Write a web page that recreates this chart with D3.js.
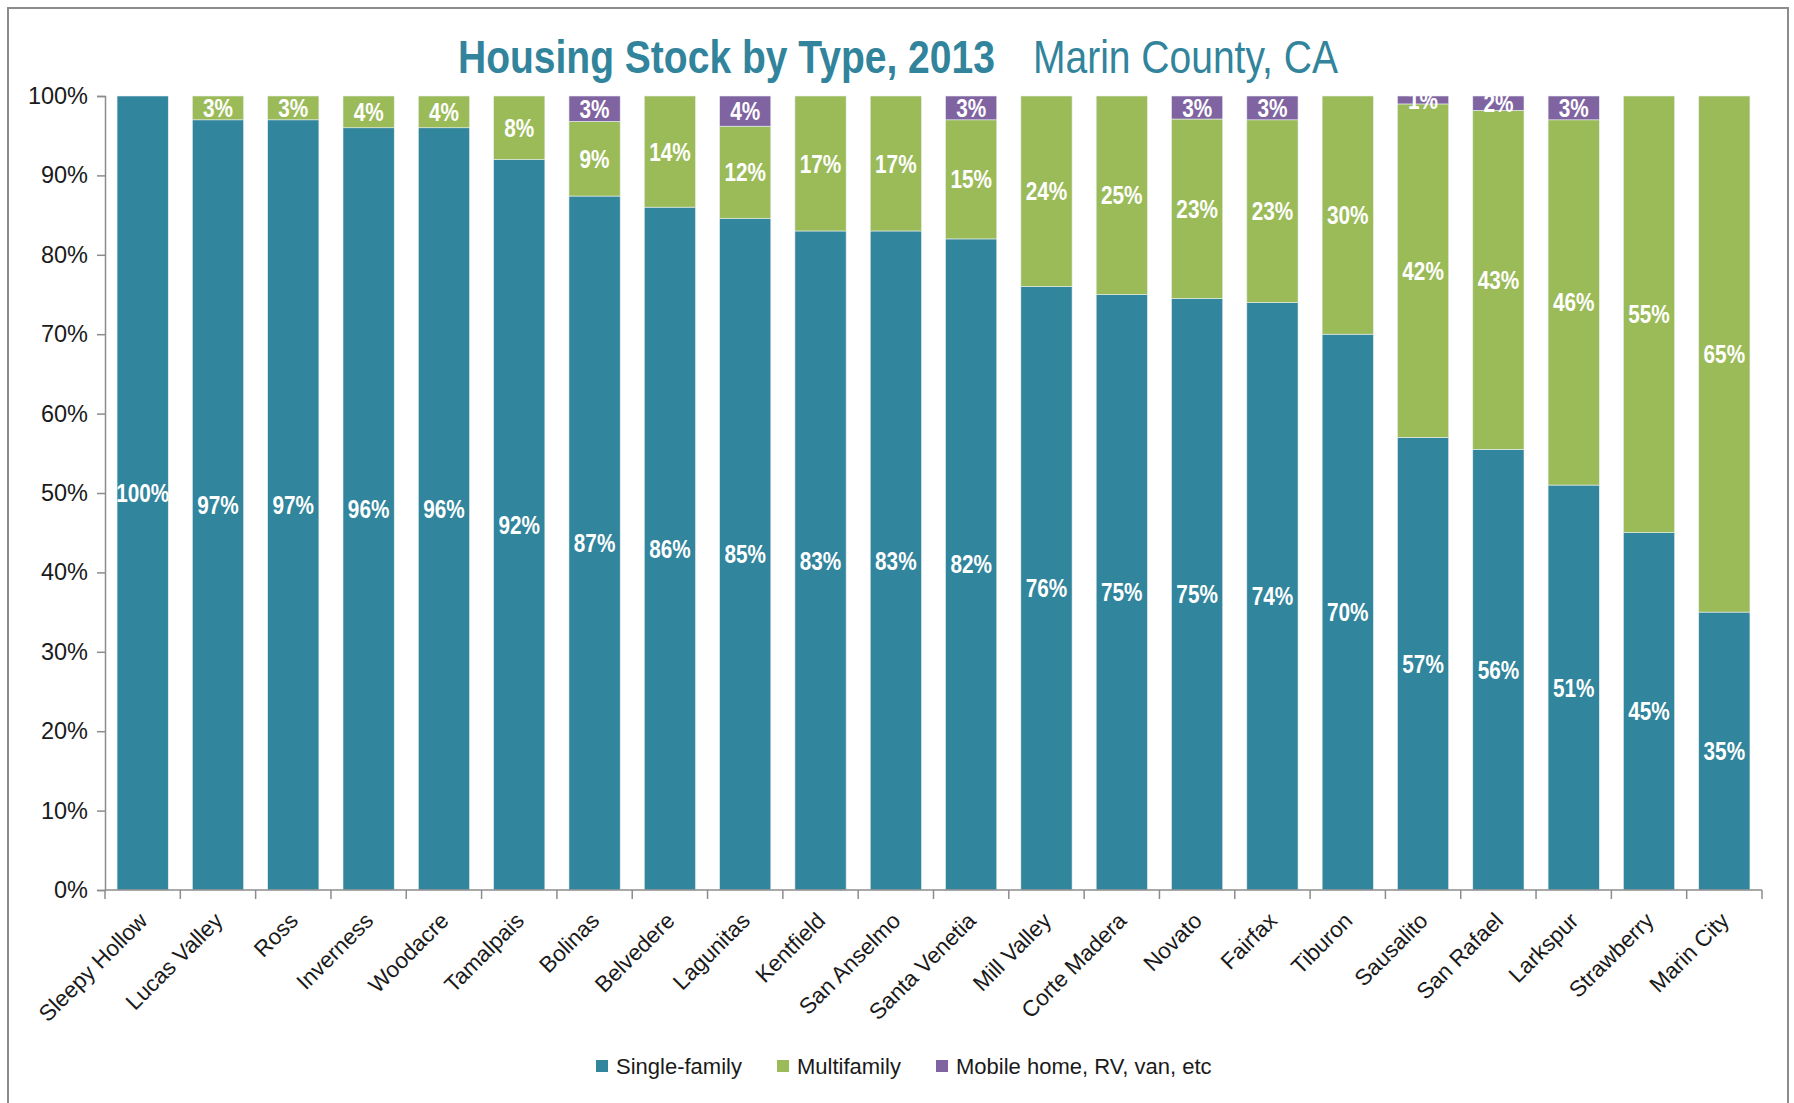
<!DOCTYPE html>
<html>
<head>
<meta charset="utf-8">
<script src="https://cdn.jsdelivr.net/npm/d3@7/dist/d3.min.js"></script>
<style>
  html, body { margin: 0; padding: 0; background: #ffffff; }
  svg { display: block; }
</style>
</head>
<body>
<svg id="chart" width="1794" height="1103"></svg>
<script>
const categories = ["Sleepy Hollow","Lucas Valley","Ross","Inverness","Woodacre","Tamalpais","Bolinas","Belvedere","Lagunitas","Kentfield","San Anselmo","Santa Venetia","Mill Valley","Corte Madera","Novato","Fairfax","Tiburon","Sausalito","San Rafael","Larkspur","Strawberry","Marin City"];
const singleFamily = [100, 97, 97, 96, 96, 92, 87.4, 86, 84.6, 83, 83, 82, 76, 75, 74.5, 74, 70, 57, 55.5, 51, 45, 35];
const multifamily  = [0, 3, 3, 4, 4, 8, 9.4, 14, 11.6, 17, 17, 15, 24, 25, 22.6, 23, 30, 42, 42.7, 46, 55, 65];
const mobileHome   = [0, 0, 0, 0, 0, 0, 3.2, 0, 3.8, 0, 0, 3, 0, 0, 2.9, 3, 0, 1, 1.8, 3, 0, 0];
const seriesNames  = ["Single-family", "Multifamily", "Mobile home, RV, van, etc"];
const seriesColors = ["#31859C", "#9BBB59", "#8064A2"];
const yTicks = [0, 10, 20, 30, 40, 50, 60, 70, 80, 90, 100];

const svg = d3.select("#chart");
const plot = { left: 105, right: 1762, top: 96, bottom: 890 };
const regular = "'Liberation Sans', Arial, sans-serif";
const narrowScale = 0.83;

// outer frame
svg.append("rect").attr("x", 8).attr("y", 8).attr("width", 1780).attr("height", 1120)
  .attr("fill", "#fff").attr("stroke", "#8c8c8c").attr("stroke-width", 2);

// title (condensed via horizontal scale)
const tg = svg.append("g").attr("transform", `translate(458,73) scale(${narrowScale},1)`);
tg.append("text").attr("x", 0).attr("y", 0)
  .style("font-family", regular).style("font-size", "47px").style("font-weight", "bold")
  .attr("fill", "#31849B").text("Housing Stock by Type, 2013");
tg.append("text").attr("x", (1033 - 458) / narrowScale).attr("y", 0)
  .style("font-family", regular).style("font-size", "47px").style("font-weight", "normal")
  .attr("fill", "#31849B").text("Marin County, CA");

// data
const rows = categories.map((c, i) => ({ cat: c, s0: singleFamily[i], s1: multifamily[i], s2: mobileHome[i] }));
const series = d3.stack().keys(["s0", "s1", "s2"])(rows);

const x = d3.scaleBand().domain(categories).range([plot.left, plot.right]).paddingInner(0.32).paddingOuter(0.16);
const y = d3.scaleLinear().domain([0, 100]).range([plot.bottom, plot.top]);

// bars
const g = svg.append("g");
series.forEach((s, si) => {
  g.selectAll(null).data(s.filter(d => d[1] - d[0] > 0)).enter().append("rect")
    .attr("x", d => x(d.data.cat))
    .attr("width", x.bandwidth())
    .attr("y", d => y(d[1]))
    .attr("height", d => y(d[0]) - y(d[1]))
    .attr("fill", seriesColors[si])
    .attr("stroke", "#e8eef0")
    .attr("stroke-width", 0.6);
});

// clip for labels
svg.append("clipPath").attr("id", "plotclip").append("rect")
  .attr("x", plot.left).attr("y", plot.top).attr("width", plot.right - plot.left).attr("height", plot.bottom - plot.top);

const lg = svg.append("g").attr("clip-path", "url(#plotclip)");
series.forEach((s, si) => {
  lg.selectAll(null).data(s.filter(d => d[1] - d[0] > 0)).enter().append("text")
    .attr("transform", d => `translate(${x(d.data.cat) + x.bandwidth() / 2},${y((d[0] + d[1]) / 2)}) scale(${narrowScale},1)`)
    .attr("dy", "0.36em")
    .attr("text-anchor", "middle")
    .style("font-family", regular).style("font-weight", "bold").style("font-size", "25px")
    .attr("fill", "#ffffff")
    .text(d => Math.round(d[1] - d[0]) + "%");
});

// y axis
const yAxis = d3.axisLeft(y).tickValues(yTicks).tickFormat(d => d + "%").tickSize(8).tickPadding(9);
const ya = svg.append("g").attr("transform", `translate(${plot.left},0)`).call(yAxis);
ya.select(".domain").attr("stroke", "#8c8c8c").attr("stroke-width", 1.5);
ya.selectAll(".tick line").attr("stroke", "#8c8c8c").attr("stroke-width", 1.5);
ya.selectAll(".tick text").style("font-family", regular).style("font-size", "23.5px").attr("fill", "#1a1a1a");

// x axis line + boundary ticks
const xa = svg.append("g");
xa.append("line").attr("x1", plot.left).attr("x2", plot.right).attr("y1", plot.bottom).attr("y2", plot.bottom)
  .attr("stroke", "#8c8c8c").attr("stroke-width", 1.5);
const step = x.step();
d3.range(categories.length + 1).forEach(i => {
  const xx = plot.left + i * step;
  xa.append("line").attr("x1", xx).attr("x2", xx).attr("y1", plot.bottom).attr("y2", plot.bottom + 9)
    .attr("stroke", "#8c8c8c").attr("stroke-width", 1.5);
});
xa.selectAll(null).data(categories).enter().append("text")
  .attr("transform", d => `translate(${x(d) + x.bandwidth() / 2 - 5},${plot.bottom + 21}) rotate(-45)`)
  .attr("text-anchor", "end")
  .attr("dy", "0.7em")
  .style("font-family", regular).style("font-size", "22.5px").attr("fill", "#1a1a1a")
  .text(d => d);

// legend
const legendItems = [
  { name: seriesNames[0], color: seriesColors[0], x: 596 },
  { name: seriesNames[1], color: seriesColors[1], x: 777 },
  { name: seriesNames[2], color: seriesColors[2], x: 936 }
];
const leg = svg.append("g");
legendItems.forEach(it => {
  leg.append("rect").attr("x", it.x).attr("y", 1060).attr("width", 12).attr("height", 12).attr("fill", it.color);
  leg.append("text").attr("x", it.x + 20).attr("y", 1066).attr("dy", "0.36em")
    .style("font-family", regular).style("font-size", "22px").attr("fill", "#1a1a1a")
    .text(it.name);
});
</script>
</body>
</html>
